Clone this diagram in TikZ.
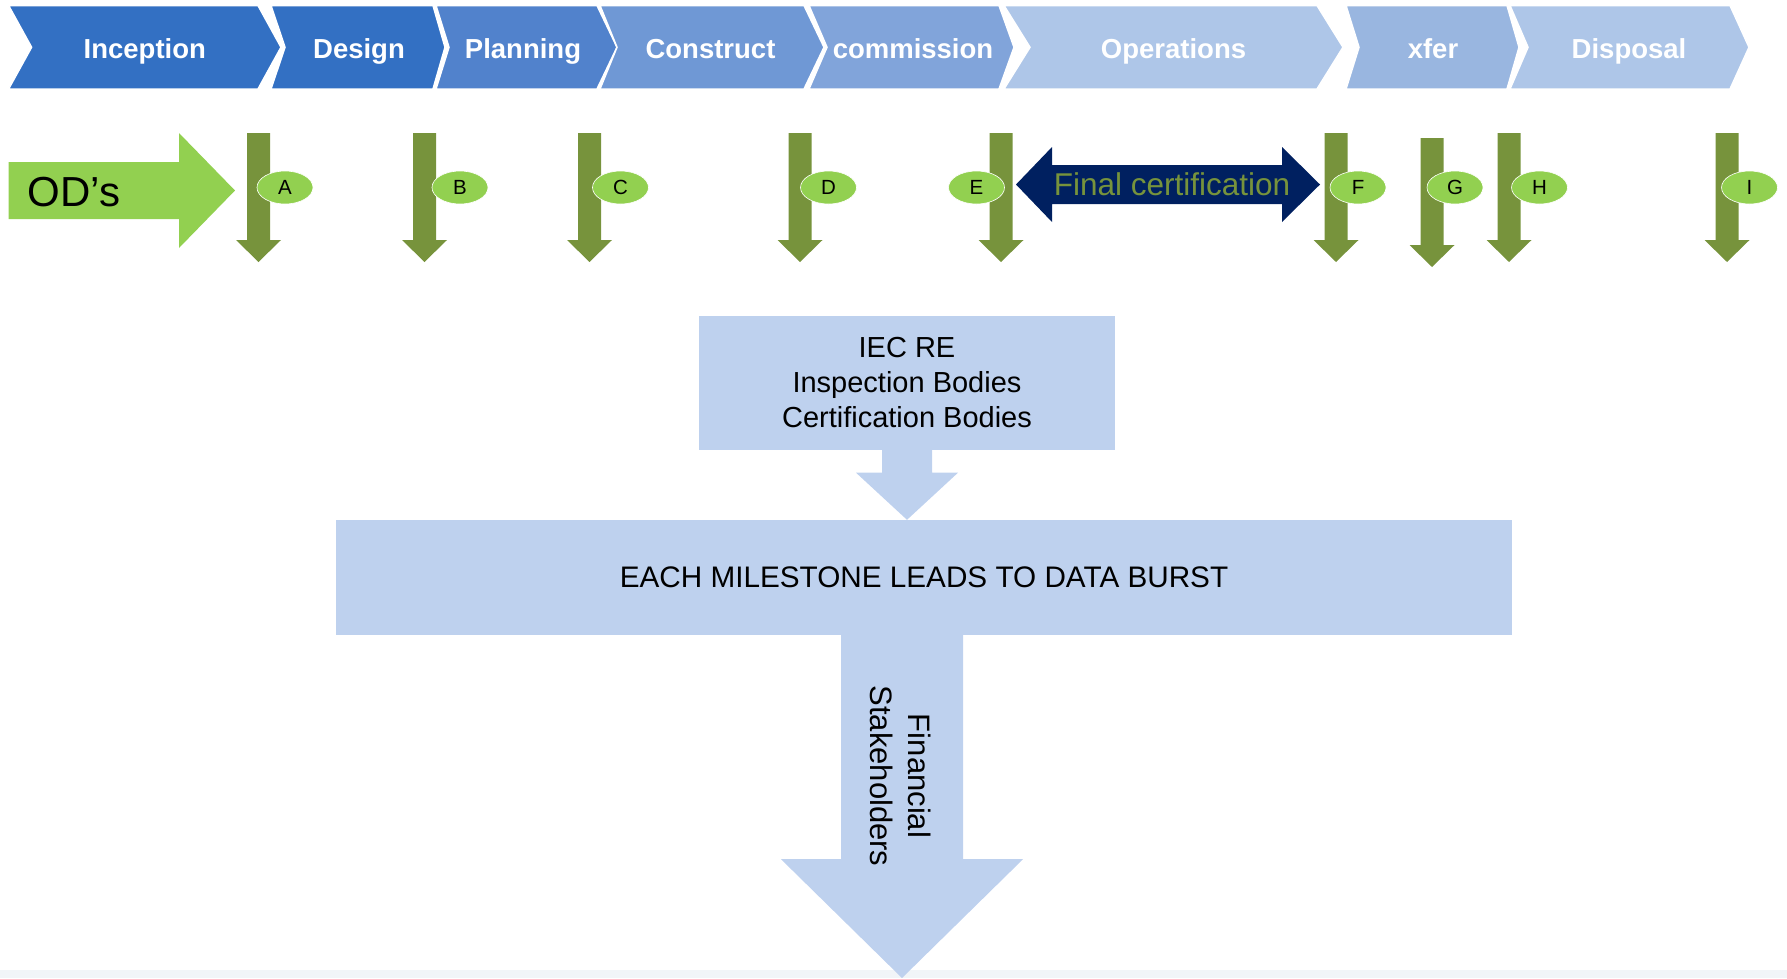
\documentclass[tikz,border=0pt]{standalone}
\usepackage{fontspec}
\setmainfont{Liberation Sans}
\usetikzlibrary{shapes.geometric,calc}
\definecolor{chA}{HTML}{3370C3}
\definecolor{chB}{HTML}{5182CC}
\definecolor{chC}{HTML}{6F98D5}
\definecolor{chD}{HTML}{81A4DA}
\definecolor{chE}{HTML}{AEC6E8}
\definecolor{chF}{HTML}{99B6E0}
\definecolor{boxblue}{HTML}{BED1EE}
\definecolor{lgreen}{HTML}{92D050}
\definecolor{olive}{HTML}{77933C}
\definecolor{navy}{HTML}{002060}
\definecolor{stripgray}{HTML}{F1F5F8}
\newcommand\chevshape[7]{%
  \fill[#6, draw=white, line width=1.5pt] (#2,5.5) -- (#4,5.5) -- (#5,47.25) -- (#4,89) -- (#2,89) -- (#3,47.25) -- cycle;
  \node[chevtext] (#1) at ({(#3+#4)/2},58) {#7};
}
\newcommand\mstone[4]{%
  \fill[olive] (#1-11.5,#2) -- (#1+11.5,#2) -- (#1+11.5,#3) -- (#1+22.5,#3) -- (#1,#4) -- (#1-22.5,#3) -- (#1-11.5,#3) -- cycle;
}
\begin{document}
\begin{tikzpicture}[x=1pt,y=-1pt,
  chevtext/.style={anchor=base, text=white, font=\fontsize{27.5}{33}\selectfont\bfseries, inner sep=0pt},
  msell/.style={ellipse, fill=lgreen, draw=white, line width=0.6pt, minimum width=56pt, minimum height=33pt, inner sep=0pt, font=\fontsize{20.5}{24}\selectfont},
  bluebox/.style={rectangle, fill=boxblue, draw=none, inner sep=0pt, align=center},
  blockarrow/.style={fill=boxblue, draw=none}
]
\useasboundingbox (0,0) rectangle (1787,978);
\fill[stripgray] (0,970) rectangle (1787,978);

% phase chevrons
\chevshape{inception}{8.6}{31.6}{258}{281}{chA}{Inception}
\chevshape{design}{271}{285}{433}{445}{chA}{Design}
\chevshape{planning}{436}{449}{597}{617}{chB}{Planning}
\chevshape{construct}{600}{617}{804}{824}{chC}{Construct}
\chevshape{commission}{809}{827}{999}{1014}{chD}{commission}
\chevshape{operations}{1004}{1030}{1317}{1343}{chE}{Operations}
\chevshape{xfer}{1346}{1359}{1507}{1519}{chF}{xfer}
\chevshape{disposal}{1510}{1528}{1730}{1749}{chE}{Disposal}

% OD's arrow
\fill[lgreen] (8.6,162) -- (179,162) -- (179,133) -- (235,190.5) -- (179,248) -- (179,219) -- (8.6,219) -- cycle;
\node[anchor=base west, inner sep=0pt, font=\fontsize{42}{48}\selectfont] (ods) at (27.5,206.7) {OD’s};

% milestone arrows
\mstone{258.5}{133}{240}{262}
\mstone{424.5}{133}{240}{262}
\mstone{589.5}{133}{240}{262}
\mstone{800}{133}{240}{262}
\mstone{1001}{133}{240}{262}
\mstone{1336}{133}{240}{262}
\mstone{1432}{138}{245}{267}
\mstone{1509}{133}{240}{262}
\mstone{1727}{133}{240}{262}

% final certification double arrow
\fill[navy] (1016,184.5) -- (1052,147) -- (1052,165) -- (1282,165) -- (1282,147) -- (1320,184.5) -- (1282,222) -- (1282,204) -- (1052,204) -- (1052,222) -- cycle;
\node[anchor=base, inner sep=0pt, text=olive, font=\fontsize{31.5}{36}\selectfont] (finalcert) at (1172,195) {Final certification};

% milestone labels
\node[msell] (A) at (285,187.5) {A};
\node[msell] (B) at (460,187.5) {B};
\node[msell] (C) at (620.5,187.5) {C};
\node[msell] (D) at (828.5,187.5) {D};
\node[msell] (E) at (976.5,187.5) {E};
\node[msell] (F) at (1358,187.5) {F};
\node[msell] (G) at (1455,187.5) {G};
\node[msell] (H) at (1539.5,187.5) {H};
\node[msell] (I) at (1749.5,187.5) {I};

% boxes
\node[bluebox, minimum width=416pt, minimum height=134pt, font=\fontsize{29}{35}\selectfont] (iec) at (907,382.5) {IEC RE\\Inspection Bodies\\Certification Bodies};
\node[bluebox, minimum width=1176pt, minimum height=115pt, font=\fontsize{29.7}{35}\selectfont] (burst) at (924,577.5) {EACH MILESTONE LEADS TO DATA BURST};

% arrow iec -> burst
\fill[blockarrow] ($(iec.south)+(-25,0)$) -- ($(iec.south)+(25,0)$) -- ($(iec.south)+(25,23)$) -- ($(iec.south)+(51,23)$) -- (burst.north -| iec.south) -- ($(iec.south)+(-51,23)$) -- ($(iec.south)+(-25,23)$) -- cycle;

% bottom arrow
\coordinate (bs) at ($(burst.south)+(-22,0)$);
\coordinate (btip) at (902,978);
\fill[blockarrow] ($(bs)+(-61,0)$) -- ($(bs)+(61,0)$) -- ($(bs)+(61,224)$) -- ($(bs)+(121,224)$) -- (btip) -- ($(bs)+(-121,224)$) -- ($(bs)+(-61,224)$) -- cycle;
\node[rotate=-90, align=center, inner sep=0pt, font=\fontsize{31}{38}\selectfont] (fin) at (901,776) {Financial\\Stakeholders};
\end{tikzpicture}
\end{document}
